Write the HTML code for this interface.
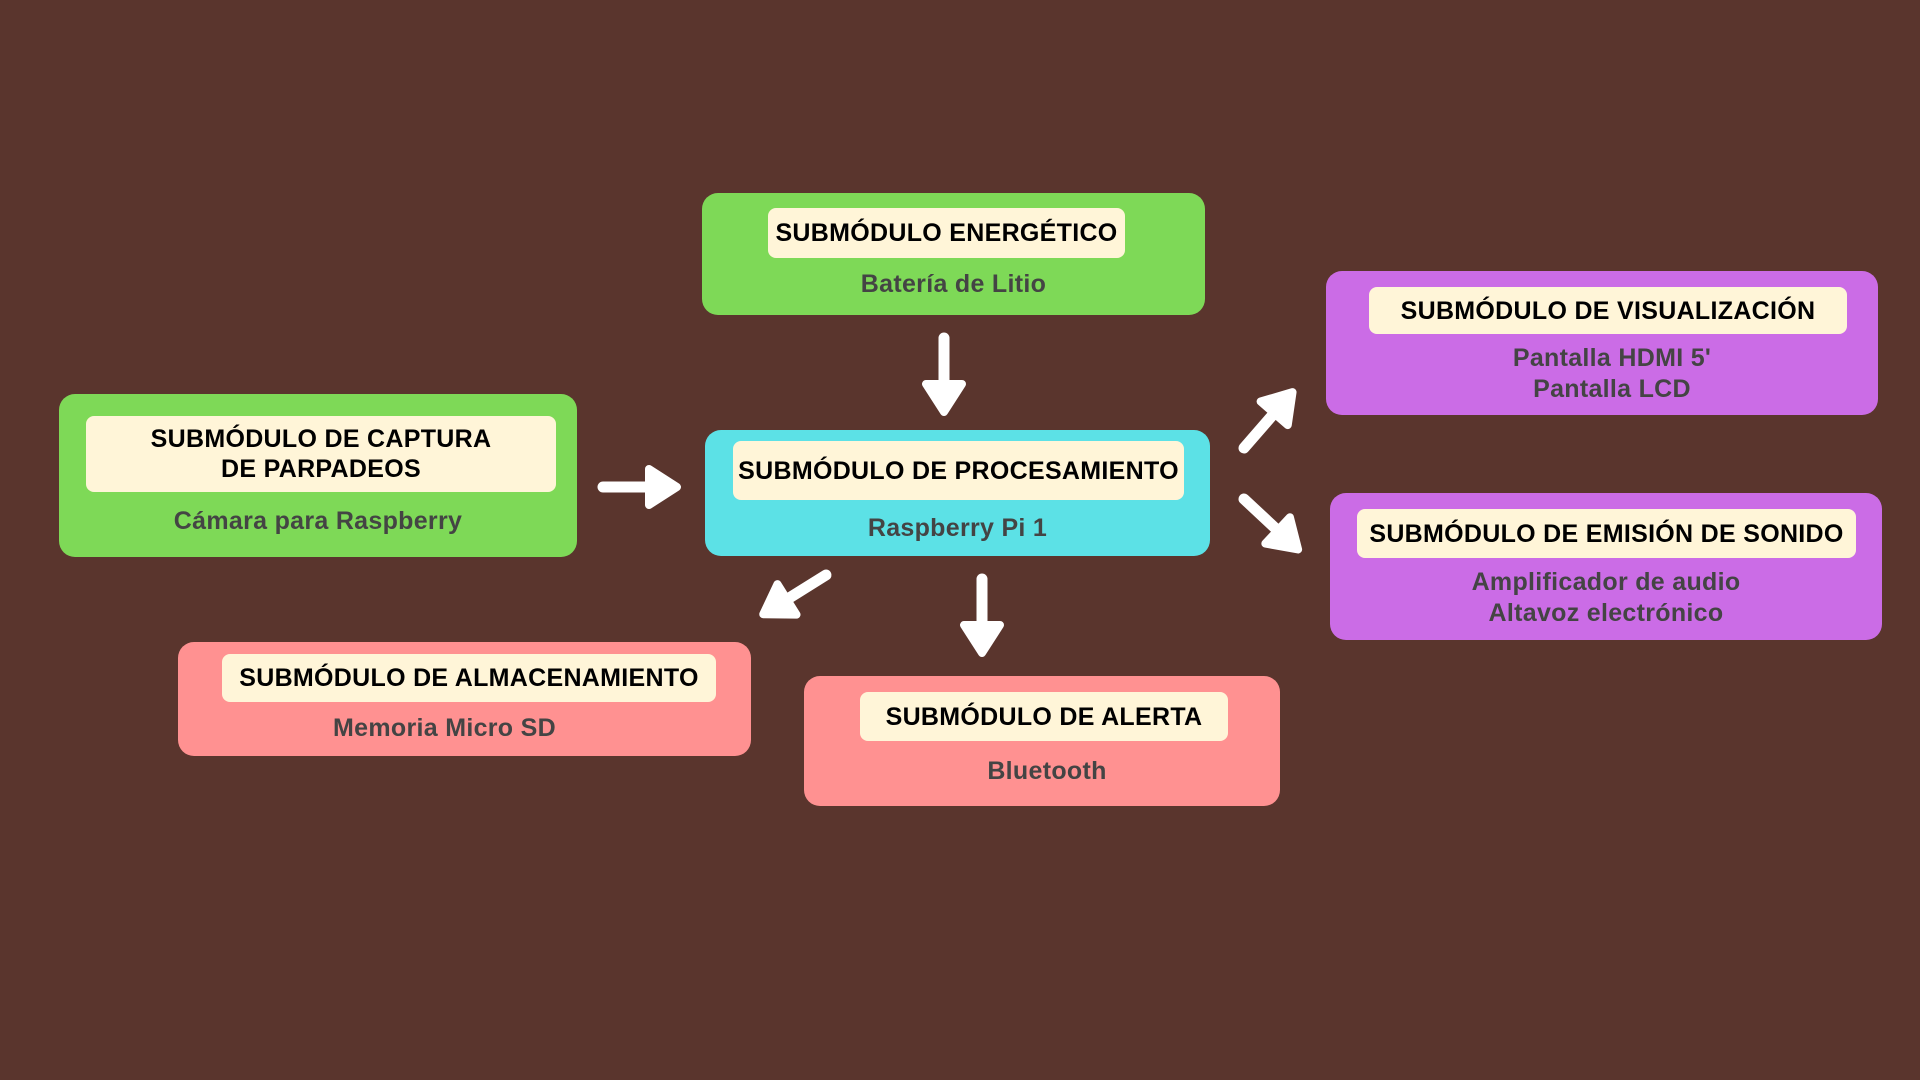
<!DOCTYPE html>
<html><head><meta charset="utf-8"><style>
html,body{margin:0;padding:0}
body{width:1920px;height:1080px;background:#5a352d;position:relative;overflow:hidden;font-family:"Liberation Sans","DejaVu Sans",sans-serif;font-weight:bold}
.box{position:absolute;border-radius:16px}
.lab{position:absolute;background:#fff5d8;border-radius:8px;color:#000;font-size:25px;text-align:center;display:flex;align-items:center;justify-content:center;line-height:30px;letter-spacing:0.3px}
.sub{position:absolute;color:#444;font-size:25px;text-align:center;line-height:31px;left:0;right:0;letter-spacing:0.3px}
.g{background:#7ed957}.c{background:#5ce1e6}.p{background:#cb6ce6}.r{background:#ff9191}
svg{position:absolute;left:0;top:0}
</style></head><body>
<div class="box g" style="left:702px;top:193px;width:503px;height:122px">
 <div class="lab" style="left:66px;top:15px;width:357px;height:50px">SUBMÓDULO ENERGÉTICO</div>
 <div class="sub" style="top:76px">Batería de Litio</div>
</div>
<div class="box g" style="left:59px;top:394px;width:518px;height:163px">
 <div class="lab" style="left:27px;top:22px;width:470px;height:76px">SUBMÓDULO DE CAPTURA<br>DE PARPADEOS</div>
 <div class="sub" style="top:112px">Cámara para Raspberry</div>
</div>
<div class="box c" style="left:705px;top:430px;width:505px;height:126px">
 <div class="lab" style="left:28px;top:11px;width:451px;height:59px">SUBMÓDULO DE PROCESAMIENTO</div>
 <div class="sub" style="top:83px">Raspberry Pi 1</div>
</div>
<div class="box p" style="left:1326px;top:271px;width:552px;height:144px">
 <div class="lab" style="left:43px;top:16px;width:478px;height:47px">SUBMÓDULO DE VISUALIZACIÓN</div>
 <div class="sub" style="top:72px;left:20px">Pantalla HDMI 5'<br>Pantalla LCD</div>
</div>
<div class="box p" style="left:1330px;top:493px;width:552px;height:147px">
 <div class="lab" style="left:27px;top:16px;width:499px;height:49px">SUBMÓDULO DE EMISIÓN DE SONIDO</div>
 <div class="sub" style="top:74px">Amplificador de audio<br>Altavoz electrónico</div>
</div>
<div class="box r" style="left:178px;top:642px;width:573px;height:114px">
 <div class="lab" style="left:44px;top:12px;width:494px;height:48px">SUBMÓDULO DE ALMACENAMIENTO</div>
 <div class="sub" style="top:71px;right:40px">Memoria Micro SD</div>
</div>
<div class="box r" style="left:804px;top:676px;width:476px;height:130px">
 <div class="lab" style="left:56px;top:16px;width:368px;height:49px">SUBMÓDULO DE ALERTA</div>
 <div class="sub" style="top:80px;left:10px">Bluetooth</div>
</div>
<svg width="1920" height="1080">
<defs>
<g id="ar"><line x1="0" y1="0" x2="48" y2="0" stroke="#fff" stroke-width="11" stroke-linecap="round"/><polygon points="46,-18 74,0 46,18" fill="#fff" stroke="#fff" stroke-width="8" stroke-linejoin="round"/></g>
</defs>
<use href="#ar" transform="translate(944,338) rotate(90)"/>
<use href="#ar" transform="translate(603,487)"/>
<use href="#ar" transform="translate(1244,448) rotate(-49)"/>
<use href="#ar" transform="translate(1244,499) rotate(43)"/>
<use href="#ar" transform="translate(826,575) rotate(148)"/>
<use href="#ar" transform="translate(982,579) rotate(90)"/>
</svg>
</body></html>
